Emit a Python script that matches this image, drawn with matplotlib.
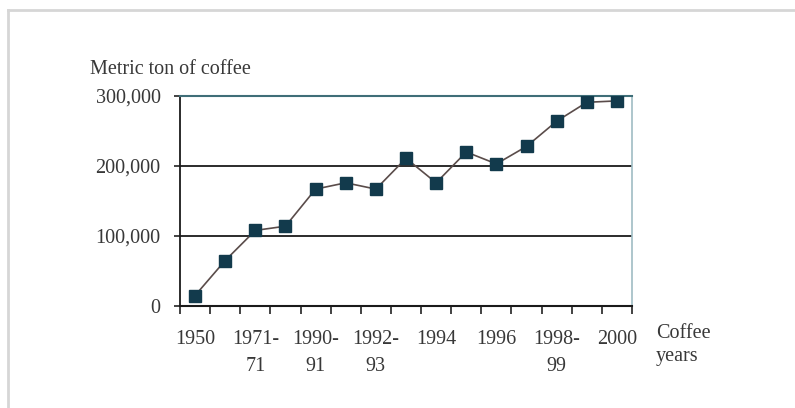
import matplotlib
matplotlib.use("Agg")
import matplotlib.pyplot as plt
from matplotlib.lines import Line2D
from matplotlib.ticker import FixedLocator, NullFormatter

categories = ["1950", "", "1971-\n71", "", "1990-\n91", "", "1992-\n93", "",
              "1994", "", "1996", "", "1998-\n99", "", "2000"]
values = [15000, 65000, 108000, 114000, 167000, 176000, 167000, 211000,
          176000, 220000, 203000, 228000, 264000, 291000, 293000]
yticks = [0, 100000, 200000, 300000]
ytick_labels = ["0", "100,000", "200,000", "300,000"]

plt.rcParams['font.family'] = ['Liberation Serif', 'DejaVu Serif']

fig = plt.figure(figsize=(7.95, 4.08), dpi=100)
ax = fig.add_axes([180/795, 102/408, 452/795, 210/408])

x = list(range(len(values)))
ax.plot(x, values, color='#5a4c4a', lw=1.2, zorder=3)
ax.plot(x, values, linestyle='none', marker='s', markersize=8.5,
        color='#123a4c', zorder=4)

ax.set_xlim(-0.5, len(values) - 0.5)
ax.set_ylim(0, 300000)

ax.set_yticks(yticks)
ax.set_yticklabels(ytick_labels, fontsize=14.5, color='#383838')
ax.tick_params(axis='y', direction='out', length=4, width=1.2, pad=10, color='#222222')

ax.set_xticks(x)
ax.set_xticklabels(categories, fontsize=14.5, color='#383838', linespacing=1.6)
ax.tick_params(axis='x', which='major', length=0, pad=17)
ax.xaxis.set_minor_locator(FixedLocator([i - 0.5 for i in range(len(values) + 1)]))
ax.xaxis.set_minor_formatter(NullFormatter())
ax.tick_params(axis='x', which='minor', direction='out', length=6, width=1.2, color='#222222')

for v in yticks[1:3]:
    ax.axhline(v, color='#1a1a1a', lw=1.3, zorder=1)

ax.spines['left'].set_color('#1a1a1a')
ax.spines['left'].set_linewidth(1.3)
ax.spines['bottom'].set_color('#1a1a1a')
ax.spines['bottom'].set_linewidth(1.5)
ax.spines['top'].set_color('#3f6e78')
ax.spines['top'].set_linewidth(1.5)
ax.spines['right'].set_color('#9fbcc4')
ax.spines['right'].set_linewidth(1.2)

fig.text(90/795, 1 - 70/408, "Metric ton of coffee", fontsize=14.5,
         color='#383838', ha='left', va='center')
fig.text(656/795, 1 - 345/408, "Coffee\nyears", fontsize=14.5,
         color='#383838', ha='left', va='center', linespacing=1.3)

# light page border at top and left
fig.add_artist(Line2D([8/795, 1], [1 - 10/408, 1 - 10/408],
                      transform=fig.transFigure, color='#d6d6d6', lw=2))
fig.add_artist(Line2D([8/795, 8/795], [0, 1 - 10/408],
                      transform=fig.transFigure, color='#d6d6d6', lw=2))

fig.savefig("out.png", dpi=100)
